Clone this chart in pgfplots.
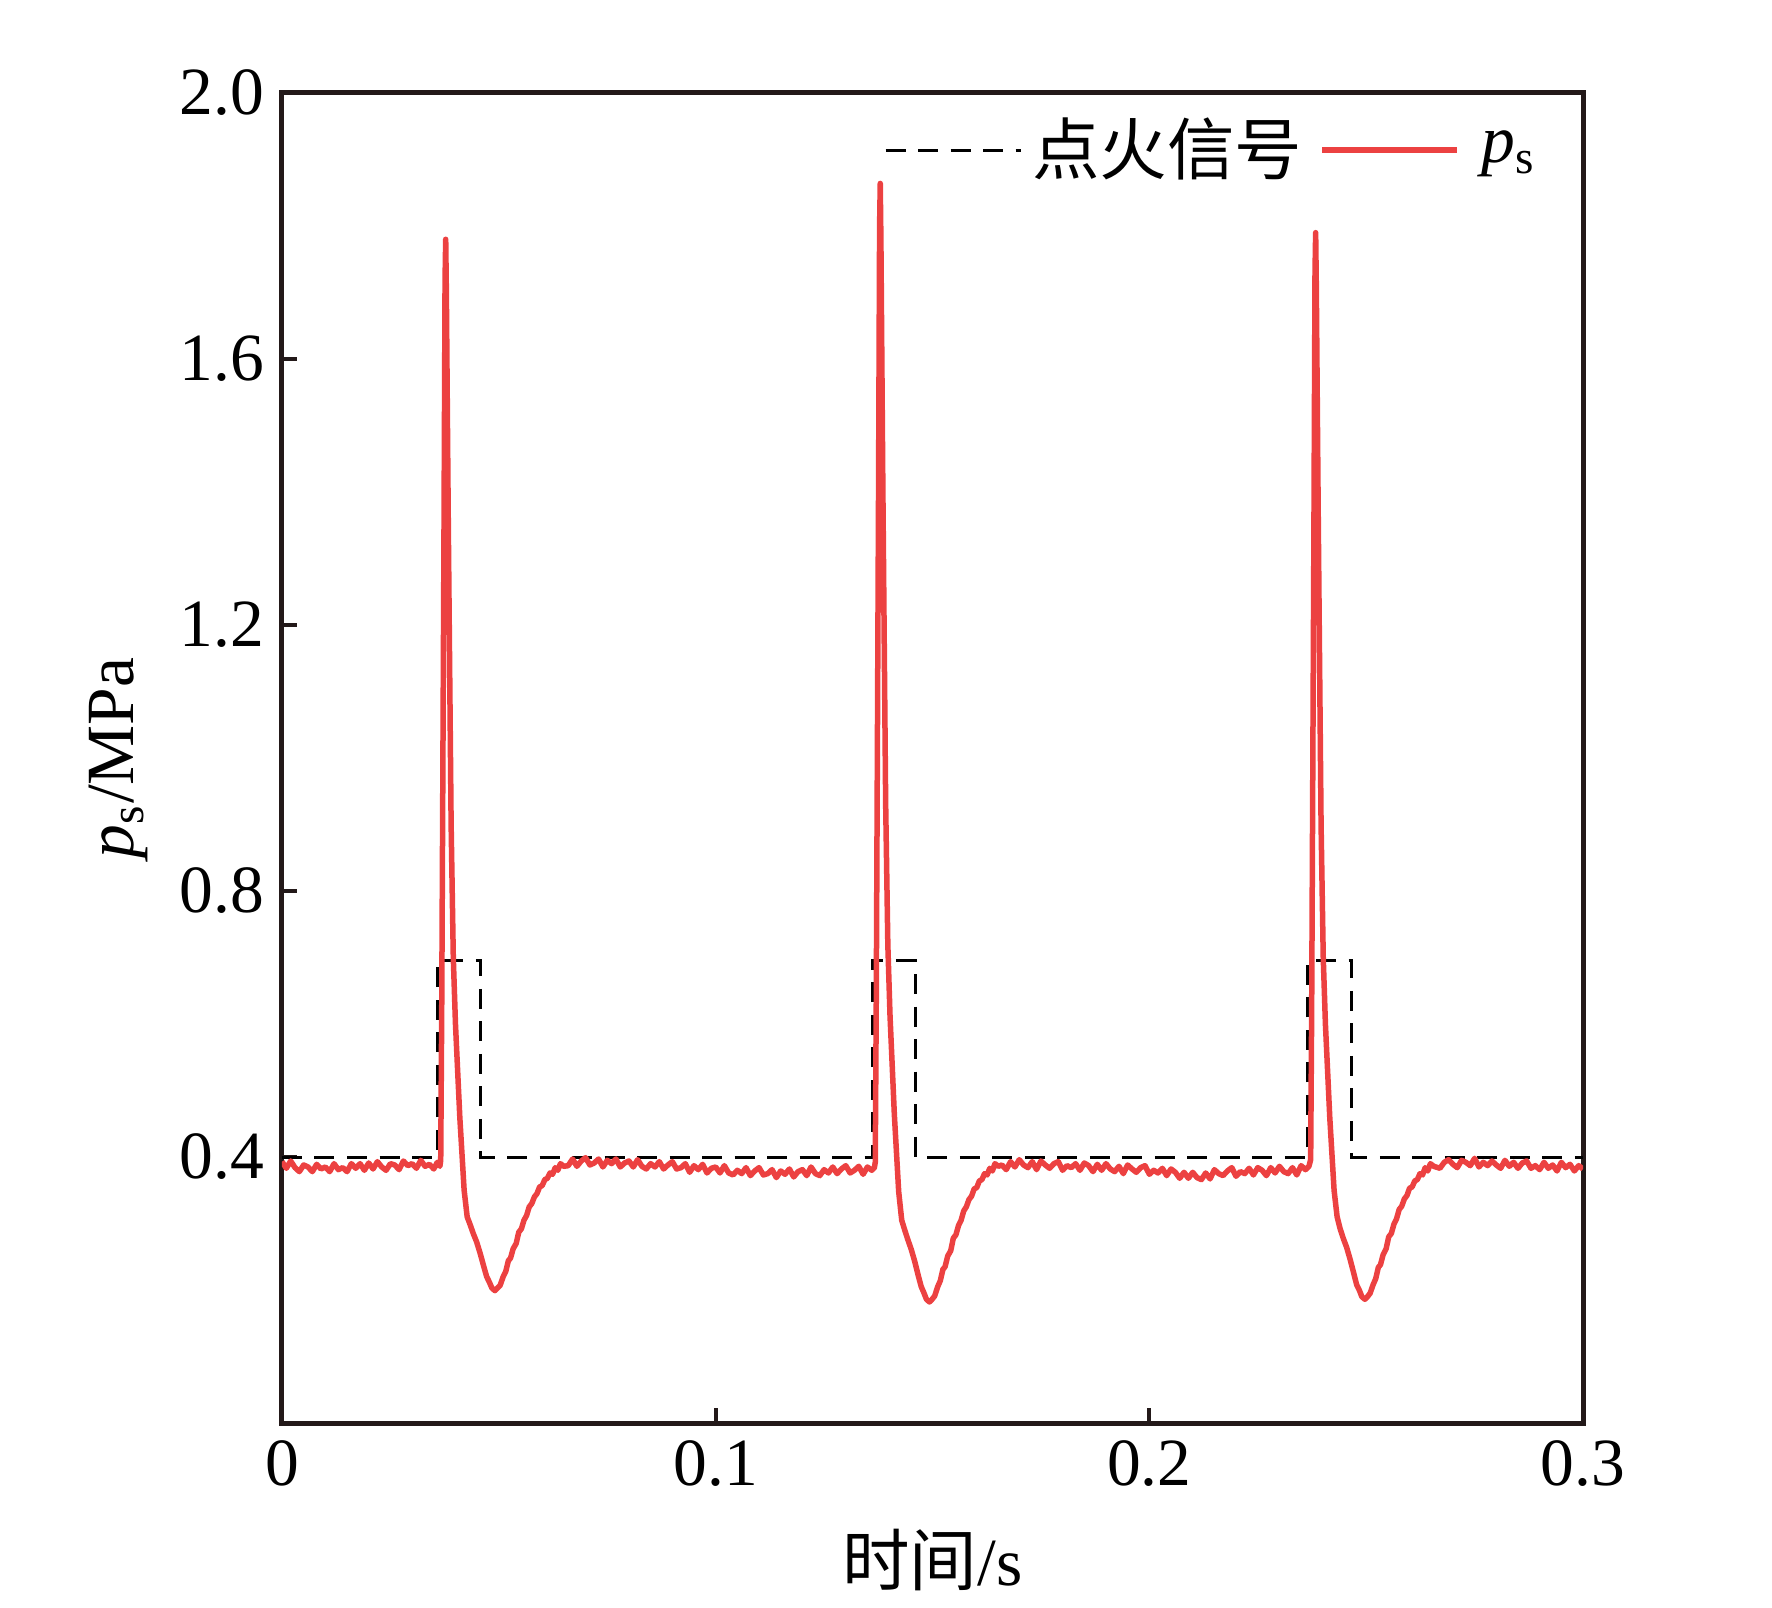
\documentclass[border=0pt]{standalone}
\usepackage{fontspec}
\setmainfont{Liberation Serif}
\newfontfamily\cjk{Noto Sans CJK SC}
\usepackage{pgfplots}
\pgfplotsset{compat=1.18}
\definecolor{pred}{RGB}{236,65,65}
\definecolor{axcol}{RGB}{35,25,25}
\newcommand{\fs}{\fontsize{13.5}{16}\selectfont}
\begin{document}
\begin{tikzpicture}
\begin{axis}[
  scale only axis,
  width=260.2pt, height=266pt,
  xmin=0, xmax=0.3, ymin=0, ymax=2.0,
  xtick={0,0.1,0.2,0.3}, xticklabels={0,0.1,0.2,0.3},
  ytick={0.4,0.8,1.2,1.6,2.0}, yticklabels={0.4,0.8,1.2,1.6,2.0},
  /pgf/number format/assume math mode=true,
  tick align=inside, major tick length=3pt,
  xtick pos=bottom, ytick pos=left,
  axis line style={draw=axcol, line width=1pt},
  every tick/.style={draw=axcol, line width=0.8pt},
  tick label style={font=\fs},
  xlabel={{\cjk 时间}/s},
  ylabel={\textit{p}\textsubscript{s}/MPa},
  label style={font=\fs},
  xlabel style={at={(axis description cs:0.5,-0.103)}, anchor=center},
  ylabel style={at={(axis description cs:-0.126,0.5)}, anchor=center},
  legend columns=2,
  legend style={draw=none, fill=none, font=\fs, at={(axis description cs:0.984,0.957)}, anchor=east,
    /tikz/every even column/.append style={column sep=1.5pt}},
  legend image code/.code={\draw[#1] (0pt,0pt) -- (27pt,0pt);},
]
\addplot[black, line width=0.6pt, dash pattern=on 4pt off 2.5pt] coordinates {
(0,0.4)(0.0358,0.4)(0.0358,0.695)(0.0457,0.695)(0.0457,0.4)
(0.1361,0.4)(0.1361,0.695)(0.1460,0.695)(0.1460,0.4)
(0.2365,0.4)(0.2365,0.695)(0.2465,0.695)(0.2465,0.4)(0.3,0.4)
};
\addlegendentry{\cjk 点火信号}
\addplot[pred, line width=1.1pt, line join=round] coordinates {
(0.000,0.393)(0.001,0.383)(0.002,0.394)(0.003,0.384)(0.004,0.378)(0.005,0.388)(0.006,0.385)(0.007,0.378)(0.008,0.389)(0.009,0.382)
(0.010,0.385)(0.011,0.378)(0.012,0.390)(0.013,0.381)(0.014,0.384)(0.015,0.378)(0.016,0.390)(0.017,0.383)(0.018,0.390)(0.019,0.380)
(0.020,0.391)(0.021,0.382)(0.022,0.393)(0.023,0.385)(0.024,0.380)(0.025,0.390)(0.026,0.388)(0.027,0.381)(0.028,0.394)(0.029,0.387)
(0.030,0.390)(0.031,0.383)(0.032,0.395)(0.033,0.386)(0.034,0.389)(0.035,0.382)(0.0358,0.392)(0.0364,0.386)
(0.0366,0.395)(0.03683,0.62)(0.03736,1.35)(0.0376,1.72)(0.03775,1.78)(0.0379,1.70)(0.03835,1.35)(0.0390,0.90)(0.0395,0.70)(0.0400,0.60)
(0.0410,0.46)(0.0420,0.35)(0.0427,0.31)(0.0434,0.298)(0.0441,0.285)(0.0449,0.272)(0.0457,0.255)(0.0465,0.236)(0.0472,0.220)(0.0478,0.212)
(0.0484,0.203)(0.0491,0.199)(0.0497,0.203)(0.0503,0.207)(0.0510,0.220)(0.0516,0.228)(0.0522,0.244)(0.0527,0.248)(0.0533,0.262)(0.0540,0.270)
(0.0546,0.287)(0.0552,0.292)(0.0558,0.305)(0.0564,0.312)(0.0570,0.325)(0.0576,0.330)(0.0582,0.340)(0.0588,0.345)(0.0594,0.355)(0.0600,0.357)
(0.0606,0.366)(0.0612,0.368)(0.0618,0.376)(0.0624,0.374)(0.0630,0.384)(0.0636,0.380)(0.0642,0.390)(0.0650,0.386)
(0.066,0.387)(0.067,0.397)(0.068,0.386)(0.069,0.394)(0.070,0.399)(0.071,0.388)(0.072,0.391)(0.073,0.397)(0.074,0.385)(0.075,0.395)
(0.076,0.390)(0.077,0.397)(0.078,0.385)(0.079,0.391)(0.080,0.394)(0.081,0.385)(0.082,0.396)(0.083,0.386)(0.084,0.382)(0.085,0.390)
(0.086,0.385)(0.087,0.393)(0.088,0.382)(0.089,0.388)(0.090,0.393)(0.091,0.382)(0.092,0.384)(0.093,0.390)(0.094,0.377)(0.095,0.387)
(0.096,0.381)(0.097,0.389)(0.098,0.376)(0.099,0.383)(0.100,0.385)(0.101,0.376)(0.102,0.387)(0.103,0.376)(0.104,0.373)(0.105,0.380)
(0.106,0.375)(0.107,0.384)(0.108,0.372)(0.109,0.379)(0.110,0.384)(0.111,0.373)(0.112,0.375)(0.113,0.381)(0.114,0.369)(0.115,0.379)
(0.116,0.374)(0.117,0.382)(0.118,0.370)(0.119,0.378)(0.120,0.381)(0.121,0.372)(0.122,0.385)(0.123,0.375)(0.124,0.372)(0.125,0.381)
(0.126,0.376)(0.127,0.385)(0.128,0.375)(0.129,0.382)(0.130,0.387)(0.131,0.376)(0.132,0.380)(0.133,0.386)(0.134,0.374)(0.135,0.385)
(0.136,0.380)(0.1366,0.384)
(0.1368,0.392)(0.13703,0.634)(0.13756,1.408)(0.1378,1.800)(0.13795,1.864)(0.1381,1.780)(0.13855,1.408)(0.1392,0.931)(0.1397,0.719)(0.1402,0.613)
(0.1412,0.464)(0.1422,0.348)(0.1429,0.305)(0.1436,0.290)(0.1443,0.276)(0.1451,0.261)(0.1459,0.243)(0.1467,0.222)(0.1474,0.205)(0.1480,0.196)
(0.1486,0.186)(0.1493,0.182)(0.1499,0.186)(0.1505,0.191)(0.1512,0.205)(0.1518,0.214)(0.1524,0.231)(0.1529,0.235)(0.1535,0.251)(0.1542,0.259)
(0.1548,0.278)(0.1554,0.283)(0.1560,0.297)(0.1566,0.305)(0.1572,0.319)(0.1578,0.325)(0.1584,0.336)(0.1590,0.341)(0.1596,0.352)(0.1602,0.354)
(0.1608,0.364)(0.1614,0.366)(0.1620,0.375)(0.1626,0.373)(0.1632,0.383)(0.1638,0.379)(0.1644,0.390)(0.1652,0.386)
(0.166,0.388)(0.167,0.381)(0.168,0.393)(0.169,0.385)(0.170,0.396)(0.171,0.388)(0.172,0.384)(0.173,0.393)(0.174,0.381)(0.175,0.394)
(0.176,0.388)(0.177,0.383)(0.178,0.390)(0.179,0.393)(0.180,0.380)(0.181,0.387)(0.182,0.384)(0.183,0.390)(0.184,0.380)(0.185,0.391)
(0.186,0.387)(0.187,0.378)(0.188,0.389)(0.189,0.380)(0.190,0.390)(0.191,0.382)(0.192,0.378)(0.193,0.386)(0.194,0.375)(0.195,0.388)
(0.196,0.382)(0.197,0.377)(0.198,0.384)(0.199,0.387)(0.200,0.374)(0.201,0.380)(0.202,0.376)(0.203,0.383)(0.204,0.372)(0.205,0.382)
(0.206,0.377)(0.207,0.368)(0.208,0.377)(0.209,0.368)(0.210,0.377)(0.211,0.369)(0.212,0.366)(0.213,0.376)(0.214,0.367)(0.215,0.381)
(0.216,0.375)(0.217,0.372)(0.218,0.379)(0.219,0.384)(0.220,0.371)(0.221,0.378)(0.222,0.375)(0.223,0.383)(0.224,0.373)(0.225,0.384)
(0.226,0.380)(0.227,0.372)(0.228,0.384)(0.229,0.376)(0.230,0.386)(0.231,0.378)(0.232,0.375)(0.233,0.384)(0.234,0.373)(0.235,0.387)
(0.236,0.381)(0.2368,0.386)
(0.2372,0.396)(0.23743,0.62)(0.23796,1.36)(0.2382,1.73)(0.23835,1.79)(0.2385,1.71)(0.23895,1.36)(0.2396,0.90)(0.2401,0.70)(0.2406,0.60)
(0.2416,0.46)(0.2426,0.35)(0.2433,0.31)(0.2440,0.292)(0.2447,0.278)(0.2455,0.264)(0.2463,0.246)(0.2471,0.226)(0.2478,0.208)(0.2484,0.200)
(0.2490,0.190)(0.2497,0.186)(0.2503,0.190)(0.2509,0.195)(0.2516,0.208)(0.2522,0.217)(0.2528,0.234)(0.2533,0.238)(0.2539,0.253)(0.2546,0.262)
(0.2552,0.280)(0.2558,0.285)(0.2564,0.299)(0.2570,0.307)(0.2576,0.321)(0.2582,0.326)(0.2588,0.337)(0.2594,0.342)(0.2600,0.353)(0.2606,0.355)
(0.2612,0.364)(0.2618,0.366)(0.2624,0.375)(0.2630,0.373)(0.2636,0.384)(0.2642,0.379)(0.2648,0.390)(0.2656,0.386)
(0.267,0.383)(0.268,0.392)(0.269,0.396)(0.270,0.389)(0.271,0.384)(0.272,0.395)(0.273,0.392)(0.274,0.387)(0.275,0.398)(0.276,0.385)
(0.277,0.392)(0.278,0.387)(0.279,0.394)(0.280,0.388)(0.281,0.383)(0.282,0.395)(0.283,0.386)(0.284,0.392)(0.285,0.383)(0.286,0.391)
(0.287,0.394)(0.288,0.383)(0.289,0.387)(0.290,0.381)(0.291,0.392)(0.292,0.383)(0.293,0.388)(0.294,0.379)(0.295,0.392)(0.296,0.384)
(0.297,0.389)(0.298,0.379)(0.299,0.387)(0.300,0.382)
};
\addlegendentry{\hspace{2.3pt}\textit{p}\textsubscript{s}}
\end{axis}
\path[use as bounding box] ([xshift=-56.4pt,yshift=-35.8pt]current axis.south west) rectangle ([xshift=37.8pt,yshift=18.6pt]current axis.north east);
\end{tikzpicture}
\end{document}
